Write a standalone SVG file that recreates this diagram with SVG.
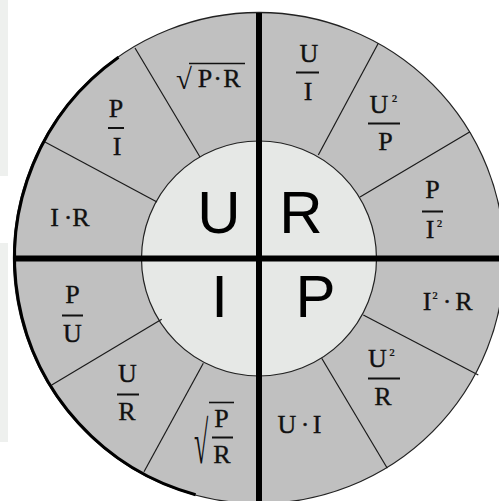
<svg xmlns="http://www.w3.org/2000/svg" width="499" height="501" viewBox="0 0 499 501">
<style>
.f{font-family:"Liberation Serif","Times New Roman",serif;font-size:26px;fill:#111;stroke:#111;stroke-width:0.35;text-anchor:middle}
.sup{font-size:18px;stroke-width:0.2}
.rad{font-family:"Liberation Serif","Times New Roman",serif;fill:#111}
.big{font-family:"Liberation Sans",Arial,sans-serif;font-size:60px;fill:#000;text-anchor:middle}
.bar{stroke:#111;stroke-width:2}
.vin{stroke:#111;stroke-width:1.6}
.spoke{stroke:#1a1a1a;stroke-width:1.2}
.axis{stroke:#000;stroke-width:6}
</style>
<rect width="499" height="501" fill="#fff"/>
<rect x="0" y="0" width="8" height="176" fill="#eef0ee"/>
<rect x="0" y="243" width="8" height="199" fill="#eef0ee"/>
<g id="ring">
<circle cx="259" cy="258" r="245.5" fill="#c0c0c0" stroke="#222" stroke-width="1.3"/>
<path d="M118.5,57.3 A245.5,245.5 0 0 0 195.6,494.7" fill="none" stroke="#000" stroke-width="3"/>
</g>
<g id="hub"><circle cx="259" cy="258.5" r="117.5" fill="#e6e8e6" stroke="#222" stroke-width="1.2"/></g>
<g id="connectors">
<line class="spoke" x1="200" y1="157" x2="135" y2="48"/>
<line class="spoke" x1="157" y1="202" x2="45" y2="142"/>
<line class="spoke" x1="318.3" y1="155" x2="378.3" y2="43.3"/>
<line class="spoke" x1="360" y1="197" x2="470" y2="131.7"/>
<line class="spoke" x1="363.3" y1="315" x2="478.3" y2="375"/>
<line class="spoke" x1="321.7" y1="358.3" x2="387.3" y2="468.3"/>
<line class="spoke" x1="203.3" y1="363.3" x2="144" y2="471.7"/>
<line class="spoke" x1="161.7" y1="319.3" x2="51.7" y2="385"/>
<line class="axis" x1="259" y1="13" x2="259" y2="501"/>
<line class="axis" x1="13" y1="258.5" x2="499" y2="258.5"/>
</g>
<g id="center-U"><text class="big" x="219" y="233">U</text></g>
<g id="center-R"><text class="big" x="301" y="233">R</text></g>
<g id="center-I"><text class="big" x="219.5" y="317">I</text></g>
<g id="center-P"><text class="big" x="315.5" y="317">P</text></g>
<g id="u-sqrt-PR">
<text class="rad" x="176" y="89" font-size="29">√</text>
<line class="vin" x1="189" y1="63.5" x2="245" y2="63.5"/>
<text class="f" font-size="29" x="205 217.5 232" y="87">P·R</text>
</g>
<g id="u-P-I">
<text class="f" x="116" y="117">P</text><line class="bar" x1="108" y1="128" x2="124" y2="128"/><text class="f" x="117" y="155">I</text>
</g>
<g id="u-I-R"><text class="f" x="54.5 68 81" y="226">I·R</text></g>
<g id="r-U-I">
<text class="f" x="309" y="62">U</text><line class="bar" x1="296" y1="72.5" x2="319" y2="72.5"/><text class="f" x="308" y="100">I</text>
</g>
<g id="r-U2-P">
<text class="f" x="379" y="113">U</text><text class="f sup" x="394.5" y="107">²</text><line class="bar" x1="368" y1="123.5" x2="400" y2="123.5"/><text class="f" x="385.5" y="150">P</text>
</g>
<g id="r-P-I2">
<text class="f" x="432.5" y="198">P</text><line class="bar" x1="422" y1="211.5" x2="443" y2="211.5"/><text class="f" x="430" y="238">I</text><text class="f sup" x="439.5" y="232">²</text>
</g>
<g id="i-P-U">
<text class="f" x="72.5" y="303">P</text><line class="bar" x1="62" y1="315.5" x2="83" y2="315.5"/><text class="f" x="72.5" y="342">U</text>
</g>
<g id="i-U-R">
<text class="f" x="127.5" y="382">U</text><line class="bar" x1="117" y1="394.5" x2="139" y2="394.5"/><text class="f" x="127" y="420">R</text>
</g>
<g id="i-sqrt-P-R">
<text class="rad" font-size="26" transform="translate(194,463) scale(1,2.3)" x="0" y="0">√</text>
<line class="vin" x1="209" y1="402.5" x2="234" y2="402.5"/>
<text class="f" x="221.5" y="427">P</text><line class="bar" x1="212" y1="437.5" x2="233" y2="437.5"/><text class="f" x="222" y="463">R</text>
</g>
<g id="p-I2-R">
<text class="f" x="427" y="310">I</text><text class="f sup" x="435" y="304">²</text><text class="f" x="447 464" y="310">·R</text>
</g>
<g id="p-U2-R">
<text class="f" x="377.5" y="367">U</text><text class="f sup" x="392" y="361">²</text><line class="bar" x1="368" y1="378.5" x2="400" y2="378.5"/><text class="f" x="383" y="405">R</text>
</g>
<g id="p-U-I"><text class="f" x="287 305 317" y="433">U·I</text></g>
</svg>
